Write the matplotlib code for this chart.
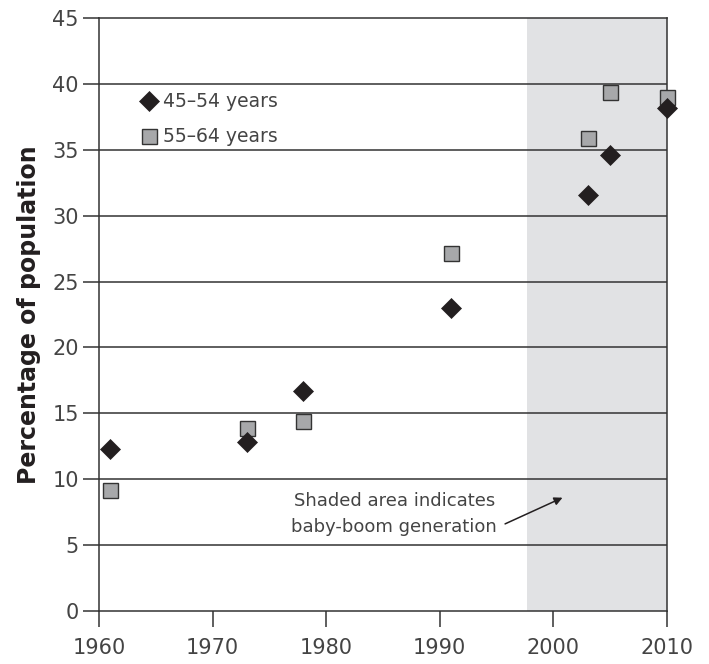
import matplotlib
matplotlib.use("Agg")
import matplotlib.pyplot as plt

plt.rcParams['font.family'] = ['DejaVu Sans']

# data
years_4554 = [1961, 1973, 1978, 1991, 2003, 2005, 2010]
pct_4554 = [12.3, 12.8, 16.7, 23.0, 31.6, 34.6, 38.2]
years_5564 = [1961, 1973, 1978, 1991, 2003, 2005, 2010]
pct_5564 = [9.2, 13.9, 14.4, 27.2, 35.9, 39.4, 39.0]
boom_start = 1997.7
x_ticks = [1960, 1970, 1980, 1990, 2000, 2010]
y_ticks = [0, 5, 10, 15, 20, 25, 30, 35, 40, 45]

line_col = '#333333'
text_col = '#444444'

fig = plt.figure(figsize=(7.09, 6.64), dpi=100)
ax = fig.add_axes([0.1396, 0.0798, 0.8012, 0.8931])

ax.axvspan(boom_start, 2010, color='#e1e2e4', lw=0, zorder=0)

for y in y_ticks[1:-1]:
    ax.axhline(y, color=line_col, lw=1.1, zorder=1)

ax.plot(years_5564, pct_5564, ls='none', marker='s', ms=10.8,
        mfc='#a7a8aa', mec='#333333', mew=1.0, zorder=3, clip_on=False,
        label='55–64 years')
ax.plot(years_4554, pct_4554, ls='none', marker='D', ms=9.8,
        mfc='#231f20', mec='#231f20', mew=0.5, zorder=4, clip_on=False,
        label='45–54 years')

ax.set_xlim(1960, 2010)
ax.set_ylim(0, 45)
ax.set_xticks(x_ticks)
ax.set_yticks(y_ticks)

for s in ['left', 'right', 'top', 'bottom']:
    ax.spines[s].set_color(line_col)
    ax.spines[s].set_linewidth(1.1)

ax.tick_params(axis='y', direction='out', length=11.5, width=1.1,
               color=line_col, pad=3, labelsize=15, labelcolor=text_col)
ax.tick_params(axis='x', direction='out', length=11.5, width=1.1,
               color=line_col, pad=8, labelsize=15, labelcolor=text_col)

ax.set_ylabel('Percentage of population', fontsize=17, fontweight='bold',
              color='#231f20', labelpad=8)

h, l = ax.get_legend_handles_labels()
leg = ax.legend(h[::-1], l[::-1], loc='center left',
                bbox_to_anchor=(0.06, 0.829), frameon=False,
                handlelength=0.9, handletextpad=0.3, labelspacing=0.85,
                fontsize=13.5, borderaxespad=0)
for t in leg.get_texts():
    t.set_color(text_col)

ax.annotate('Shaded area indicates\nbaby-boom generation',
            xy=(2000.8, 8.6), xytext=(1986.0, 7.35),
            ha='center', va='center', fontsize=13, color=text_col,
            linespacing=1.6,
            arrowprops=dict(arrowstyle='-|>', color='#231f20', lw=1.1,
                            shrinkA=4, shrinkB=0, mutation_scale=12,
                            relpos=(1.0, 0.2)))

fig.savefig('out.png', dpi=100)
